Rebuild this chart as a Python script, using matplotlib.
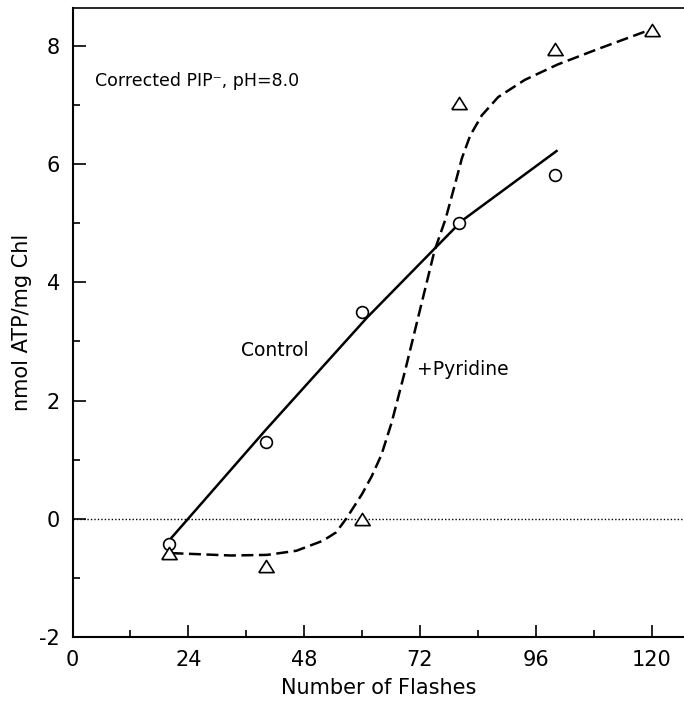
import matplotlib
matplotlib.use("Agg")
from matplotlib import pyplot as plt
import numpy as np

plt.rcParams['font.family'] = ['DejaVu Sans']
plt.rcParams['axes.unicode_minus'] = False

# measured points
flashes_ctrl = [20, 40, 60, 80, 100]
atp_ctrl = [-0.42, 1.3, 3.5, 5.0, 5.82]
flashes_pyr = [20, 40, 60, 80, 100, 120]
atp_pyr = [-0.58, -0.8, 0.0, 7.03, 7.95, 8.27]

# hand-drawn fit curves
ctrl_fit_x = [20.3, 40, 61, 80.7, 100.5]
ctrl_fit_y = [-0.34, 1.5, 3.4, 5.04, 6.23]
pyr_fit_x = [20.5, 32.8, 40.3, 46.4, 51.9, 54.6, 56.7, 60, 62, 64, 66.1, 68.9,
             71.6, 75, 77.3, 79, 80.7, 82.4, 84.8, 88.2, 93.7, 100.5, 108.8, 118.4, 120]
pyr_fit_y = [-0.58, -0.62, -0.61, -0.54, -0.37, -0.23, 0.0, 0.42, 0.72, 1.08, 1.62, 2.5,
             3.4, 4.53, 5.07, 5.58, 6.1, 6.48, 6.82, 7.13, 7.42, 7.68, 7.94, 8.23, 8.27]

xticks = [0, 24, 48, 72, 96, 120]
yticks = [-2, 0, 2, 4, 6, 8]

# open triangle, a bit wider than tall like the original
tri = [(-1, -0.8), (1, -0.8), (0, 0.8), (-1, -0.8)]

fig = plt.figure(figsize=(6.84, 7.04), dpi=100)
ax = fig.add_axes([0.106, 0.095, 0.894, 0.894])

ax.axhline(0, color='black', lw=1.0, ls=(0, (1, 1.5)))
ax.plot(ctrl_fit_x, ctrl_fit_y, color='black', lw=1.8, solid_capstyle='butt')
ax.plot(pyr_fit_x, pyr_fit_y, color='black', lw=1.8, ls=(0, (4.8, 2.2)))
ax.plot(flashes_ctrl, atp_ctrl, 'o', ms=8.5, mfc='white', mec='black', mew=1.2, ls='none')
ax.plot(flashes_pyr, atp_pyr, marker=tri, ms=11, mfc='white', mec='black', mew=1.2, ls='none')

ax.text(4.6, 7.4, 'Corrected PIP⁻, pH=8.0', fontsize=12.5, va='center', ha='left')
ax.text(35, 2.85, 'Control', fontsize=13.5, va='center', ha='left')
ax.text(71.3, 2.53, '+Pyridine', fontsize=13.5, va='center', ha='left')

ax.set_xlim(0, 126.7)
ax.set_ylim(-2, 8.64)
ax.set_xticks(xticks)
ax.set_xticks(np.arange(12, 126, 24), minor=True)
ax.set_yticks(yticks)
ax.set_yticks(np.arange(-1, 9, 2), minor=True)
ax.tick_params(which='major', direction='in', length=9, width=1.2, labelsize=15, pad=9)
ax.tick_params(which='minor', direction='in', length=5, width=1.2)
ax.spines['right'].set_visible(False)
for s in ['left', 'bottom']:
    ax.spines[s].set_linewidth(1.5)
ax.spines['top'].set_linewidth(1.2)

ax.set_xlabel('Number of Flashes', fontsize=15, labelpad=6)
ax.set_ylabel('nmol ATP/mg Chl', fontsize=15, labelpad=5)

fig.savefig('out.png', dpi=100)
